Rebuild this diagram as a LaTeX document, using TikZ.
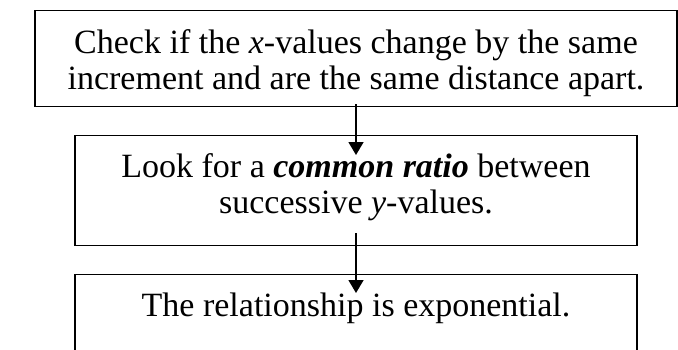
\documentclass[tikz,border=0pt]{standalone}
\usepackage{fontspec}
\setmainfont{Liberation Serif}
\usetikzlibrary{arrows.meta}
\tikzset{
  flowbox/.style={draw=black, line width=1.4pt, rectangle, anchor=north,
    inner sep=0pt, font=\fontsize{34}{36}\selectfont},
  flowarrow/.style={draw=black, line width=1.5pt, -{Triangle[width=15pt,length=13pt]}}
}
\begin{document}
\begin{tikzpicture}[x=1pt,y=1pt]
\clip (0,0) rectangle (678,-349);
\fill[white] (0,0) rectangle (678,-349);
\node[flowbox, text height=43pt, text depth=53pt] (b1) at (356,-10)
  {\parbox[t]{642pt}{\centering Check if the \textit{x}-values change by the same\\increment and are the same distance apart.}};
\node[flowbox, text height=42pt, text depth=68pt] (b2) at (356,-135)
  {\parbox[t]{562pt}{\centering Look for a \textbf{\textit{common ratio}} between\\successive \textit{y}-values.}};
\node[flowbox, text height=42pt, text depth=80pt] (b3) at (356,-274)
  {\parbox[t]{562pt}{\centering The relationship is exponential.}};
\draw[flowarrow] ([yshift=3pt]b1.south) -- ([yshift=-20pt]b2.north);
\draw[flowarrow] ([yshift=13pt]b2.south) -- ([yshift=-19pt]b3.north);
\end{tikzpicture}
\end{document}
